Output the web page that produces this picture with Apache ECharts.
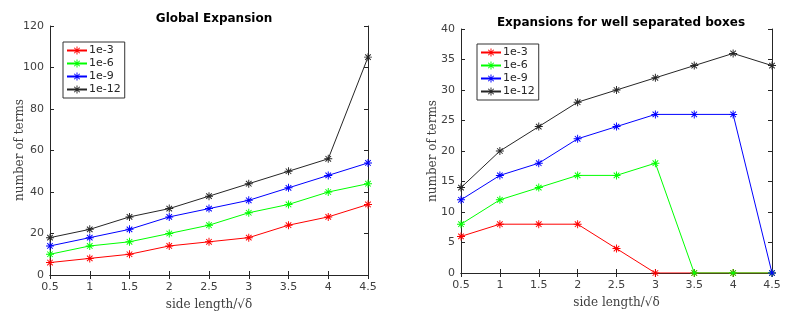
<!DOCTYPE html>
<html>
<head>
<meta charset="utf-8">
<script src="https://cdn.jsdelivr.net/npm/echarts@6/dist/echarts.min.js"></script>
<style>
html, body { margin: 0; padding: 0; background: #fff; }
#chart { width: 789px; height: 326px; }
</style>
</head>
<body>
<div id="chart"></div>
<script>
var sideLength = [0.5, 1, 1.5, 2, 2.5, 3, 3.5, 4, 4.5];
var seriesNames = ['1e-3', '1e-6', '1e-9', '1e-12'];
var seriesColors = ['#ff0000', '#00ff00', '#0000ff', '#262626'];

// global expansion
var global1e3 = [6, 8, 10, 14, 16, 18, 24, 28, 34];
var global1e6 = [10, 14, 16, 20, 24, 30, 34, 40, 44];
var global1e9 = [14, 18, 22, 28, 32, 36, 42, 48, 54];
var global1e12 = [18, 22, 28, 32, 38, 44, 50, 56, 105];

// well separated boxes
var sep1e3 = [6, 8, 8, 8, 4, 0, 0, 0, 0];
var sep1e6 = [8, 12, 14, 16, 16, 18, 0, 0, 0];
var sep1e9 = [12, 16, 18, 22, 24, 26, 26, 26, 0];
var sep1e12 = [14, 20, 24, 28, 30, 32, 34, 36, 34];

var asterisk = 'path://M-1.2,-10L1.2,-10L1.2,10L-1.2,10Z' +
    'M-10,-1.2L10,-1.2L10,1.2L-10,1.2Z' +
    'M-6.1,-7.8L7.8,6.1L6.1,7.8L-7.8,-6.1Z' +
    'M6.1,-7.8L7.8,-6.1L-6.1,7.8L-7.8,6.1Z';

var axisColor = '#262626';
var labelFont = '"DejaVu Sans", sans-serif';
var serifFont = '"DejaVu Serif", "Liberation Serif", serif';

function pairs(values) {
    var out = [];
    for (var i = 0; i < sideLength.length; i++) {
        out.push([sideLength[i], values[i]]);
    }
    return out;
}

function makeSeries(name, idx, values, gridIdx) {
    return {
        name: name,
        type: 'line',
        xAxisIndex: gridIdx * 2,
        yAxisIndex: gridIdx * 2,
        data: pairs(values),
        symbol: asterisk,
        symbolSize: 8,
        showAllSymbol: true,
        animation: false,
        lineStyle: { color: seriesColors[idx], width: 1 },
        itemStyle: { color: seriesColors[idx] },
        z: 2 + idx
    };
}

function mainX(gridIdx) {
    return {
        type: 'value', gridIndex: gridIdx, position: 'bottom',
        min: 0.5, max: 4.5, interval: 0.5,
        name: 'side length/\u221A\u03B4', nameLocation: 'middle', nameGap: 24,
        nameTextStyle: { fontFamily: serifFont, fontSize: 12, color: '#404040' },
        axisLine: { lineStyle: { color: axisColor } },
        axisTick: { inside: true, length: 4, lineStyle: { color: axisColor } },
        axisLabel: { color: '#404040', fontFamily: labelFont, fontSize: 11, margin: 7 },
        splitLine: { show: false }
    };
}

function topX(gridIdx) {
    return {
        type: 'value', gridIndex: gridIdx, position: 'top',
        min: 0.5, max: 4.5, interval: 0.5,
        axisLine: { lineStyle: { color: axisColor } },
        axisTick: { inside: true, length: 4, lineStyle: { color: axisColor } },
        axisLabel: { show: false },
        splitLine: { show: false }
    };
}

function mainY(gridIdx, max, interval) {
    return {
        type: 'value', gridIndex: gridIdx, position: 'left',
        min: 0, max: max, interval: interval,
        axisLine: { show: true, lineStyle: { color: axisColor } },
        axisTick: { show: true, inside: true, length: 4, lineStyle: { color: axisColor } },
        axisLabel: { color: '#404040', fontFamily: labelFont, fontSize: 11, margin: 6 },
        splitLine: { show: false }
    };
}

function rightY(gridIdx, max, interval) {
    return {
        type: 'value', gridIndex: gridIdx, position: 'right',
        min: 0, max: max, interval: interval,
        axisLine: { show: true, lineStyle: { color: axisColor } },
        axisTick: { show: true, inside: true, length: 4, lineStyle: { color: axisColor } },
        axisLabel: { show: false },
        splitLine: { show: false }
    };
}

function yName(x, y) {
    return {
        type: 'text', x: x, y: y, rotation: Math.PI / 2,
        style: {
            text: 'number of terms', fill: '#404040',
            font: '12px ' + serifFont, align: 'center', verticalAlign: 'middle'
        }
    };
}

function makeLegend(left, top) {
    return {
        data: seriesNames,
        orient: 'vertical',
        left: left, top: top,
        padding: [3, 4, 3, 3],
        itemGap: 2,
        itemWidth: 20,
        itemHeight: 10,
        borderColor: '#333',
        borderWidth: 1,
        backgroundColor: '#fff',
        textStyle: { fontFamily: labelFont, fontSize: 11, color: '#262626', padding: [0, 0, 0, -3] }
    };
}

var chart = echarts.init(document.getElementById('chart'), null, { renderer: 'canvas' });

var series = [];
var globalData = [global1e3, global1e6, global1e9, global1e12];
var sepData = [sep1e3, sep1e6, sep1e9, sep1e12];
for (var i = 0; i < seriesNames.length; i++) {
    series.push(makeSeries(seriesNames[i], i, globalData[i], 0));
}
for (var j = 0; j < seriesNames.length; j++) {
    series.push(makeSeries(seriesNames[j], j, sepData[j], 1));
}

var option = {
    backgroundColor: '#fff',
    animation: false,
    title: [
        { text: 'Global Expansion', left: 209, top: 8, textAlign: 'center',
          textStyle: { fontFamily: labelFont, fontSize: 12, fontWeight: 'bold', color: '#000' } },
        { text: 'Expansions for well separated boxes', left: 616, top: 12, textAlign: 'center',
          textStyle: { fontFamily: labelFont, fontSize: 12, fontWeight: 'bold', color: '#000' } }
    ],
    legend: [makeLegend(63, 42), makeLegend(477, 44)],
    grid: [
        { left: 50, right: 421, top: 26, bottom: 51 },
        { left: 461, right: 17, top: 29, bottom: 53 }
    ],
    xAxis: [mainX(0), topX(0), mainX(1), topX(1)],
    yAxis: [mainY(0, 120, 20), rightY(0, 120, 20), mainY(1, 40, 5), rightY(1, 40, 5)],
    graphic: [yName(20, 150), yName(433, 151)],
    series: series
};
chart.setOption(option, true);
</script>
</body>
</html>
